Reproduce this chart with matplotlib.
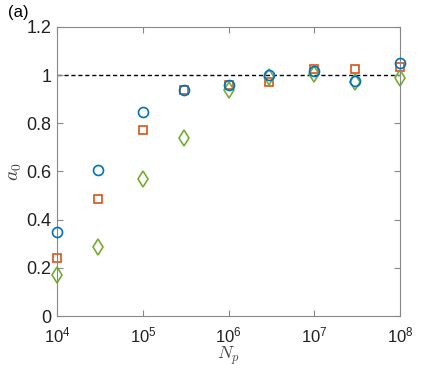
import math
import matplotlib
matplotlib.use('Agg')
import matplotlib.pyplot as plt
from matplotlib.ticker import FixedLocator, FuncFormatter, NullLocator

plt.rcParams['font.family'] = ['Liberation Sans', 'DejaVu Sans']
plt.rcParams['mathtext.fontset'] = 'cm'

Np = [1e4, 3e4, 1e5, 3e5, 1e6, 3e6, 1e7, 3e7, 1e8]
a0_circ = [0.35, 0.605, 0.848, 0.937, 0.957, 1.0, 1.015, 0.977, 1.05]
a0_sq = [0.24, 0.487, 0.772, 0.937, 0.957, 0.97, 1.025, 1.025, 1.035]
a0_dia = [0.17, 0.285, 0.57, 0.738, 0.937, 0.99, 1.005, 0.97, 0.987]
yticks = [0, 0.2, 0.4, 0.6, 0.8, 1, 1.2]
xticks = [1e4, 1e5, 1e6, 1e7, 1e8]

fig = plt.figure(figsize=(4.43, 3.68), dpi=100)
ax = fig.add_axes([0.129, 0.141, 0.774, 0.786])

ax.axhline(1, color='k', ls=(0, (3, 2)), lw=1.0, zorder=1)
ax.plot(Np, a0_circ, 'o', mfc='none', mec='#0072BD', ms=7.2, mew=1.2, zorder=3, clip_on=False)
ax.plot(Np, a0_sq, 's', mfc='none', mec='#D95319', ms=6.2, mew=1.2, zorder=2, clip_on=False)
ax.plot(Np, a0_dia, 'd', mfc='none', mec='#77AC30', ms=7.8, mew=1.2, zorder=2, clip_on=False)

ax.set_xscale('log')
ax.set_xlim(1e4, 1e8)
ax.set_ylim(0, 1.2)
ax.xaxis.set_major_locator(FixedLocator(xticks))
ax.xaxis.set_minor_locator(NullLocator())
ax.set_yticks(yticks)
ax.yaxis.set_major_formatter(FuncFormatter(lambda v, p: ('%g' % v)))
ax.xaxis.set_major_formatter(FuncFormatter(lambda v, p: r'$\mathregular{10^{%d}}$' % round(math.log10(v))))

for s in ax.spines.values():
    s.set_color('#888888')
    s.set_linewidth(0.8)
ax.tick_params(which='both', direction='in', top=True, right=True,
               length=4, width=0.8, color='#888888', labelsize=13,
               labelcolor='#222222', pad=4)
ax.tick_params(axis='x', pad=6.5, labelsize=12)

ax.set_xlabel(r'$N_p$', fontsize=13, color='#444444')
ax.xaxis.set_label_coords(0.5, -0.1)
ax.set_ylabel(r'$a_0$', fontsize=14, color='#444444', labelpad=2)
fig.text(0.018, 0.955, '(a)', fontsize=12, color='k')

fig.savefig('out.png', dpi=100)
